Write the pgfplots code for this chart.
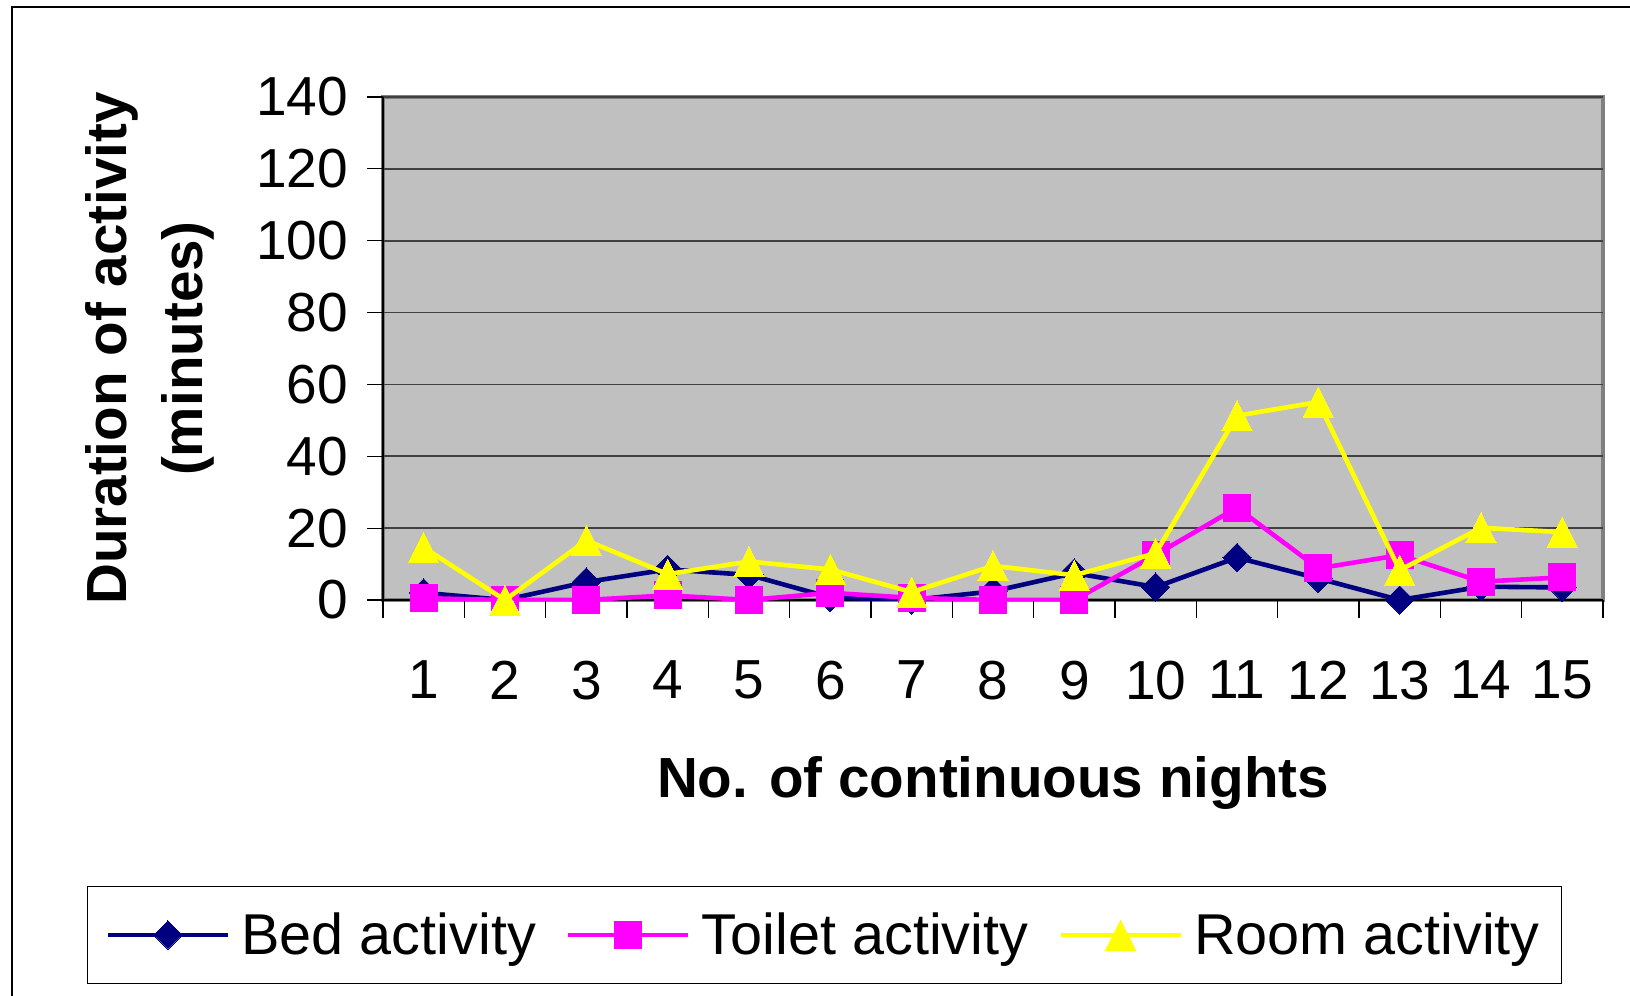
\documentclass[border=0pt]{standalone}
\usepackage{pgfplots}
\pgfplotsset{compat=1.18}
\usepackage{fontspec}
\setmainfont{Liberation Sans}
\definecolor{bedc}{HTML}{000080}
\definecolor{toic}{HTML}{FF00FF}
\definecolor{roomc}{HTML}{FFFF00}
\definecolor{plotbg}{HTML}{C0C0C0}
\definecolor{borderc}{HTML}{808080}
\definecolor{gridc}{HTML}{404040}
\begin{document}
\begin{tikzpicture}
\begin{axis}[
  at={(0pt,0pt)}, anchor=south west,
  scale only axis, width=610pt, height=251.5pt,
  xmin=0.5, xmax=15.5, ymin=0, ymax=140,
  xtick={1,...,15}, ytick={0,20,...,140},
  minor xtick={0.5,1.5,...,15.5},
  axis x line*=bottom, axis y line*=left,
  axis line style={-, black, line width=0.8pt},
  tick align=outside,
  major tick length=8pt, minor tick length=9pt,
  major x tick style={draw=none},
  minor x tick style={black, line width=0.6pt},
  major y tick style={black, line width=0.6pt},
  ymajorgrids,
  major grid style={gridc, line width=0.8pt},
  axis background/.style={fill=plotbg, draw=borderc, line width=1.6pt},
  /pgf/number format/assume math mode=true,
  tick label style={font=\fontsize{27.5}{32}\selectfont},
  xticklabel style={yshift=-19pt},
  yticklabel style={xshift=-6pt},
  xlabel={No. of continuous nights},
  xlabel style={font=\bfseries\fontsize{28.3}{34}\selectfont, at={(axis description cs:0.5,-0.3936)}, anchor=base},
  ylabel={Duration of activity\\(minutes)},
  ylabel style={font=\bfseries\fontsize{28.3}{38}\selectfont, align=center, at={(axis description cs:-0.191,0.5)}, anchor=center},
  clip mode=individual,
  legend columns=3,
  legend style={at={(axis description cs:-0.2426,-0.5686)}, anchor=north west, draw=black, line width=0.6pt, fill=white,
    inner xsep=9pt, inner ysep=11pt,
    font=\fontsize{28.8}{34}\selectfont,
    /tikz/every odd column/.append style={column sep=3.6pt},
    /tikz/every even column/.append style={column sep=13pt}},
  legend image code/.code={\draw[mark repeat=2,mark phase=2,#1] plot coordinates {(0pt,0pt) (30pt,0pt) (60pt,0pt)};},
]
\addplot[color=bedc, line width=2.3pt, mark=square*, mark size=5pt, mark options={rotate=45, fill=bedc, draw=bedc, line width=0pt}]
 coordinates {(1,2) (2,0) (3,5) (4,8.5) (5,7) (6,0.7) (7,0) (8,2.4) (9,7.5) (10,3.6) (11,11.8) (12,6) (13,0) (14,3.7) (15,3.5)};
\addlegendentry{Bed activity}
\addplot[color=toic, line width=2.3pt, mark=square*, mark size=6.7pt, mark options={fill=toic, draw=toic, line width=0pt}]
 coordinates {(1,0.5) (2,0) (3,0) (4,1.3) (5,0) (6,2) (7,0.6) (8,0) (9,0) (10,12.6) (11,25.7) (12,8.8) (13,12.5) (14,5.1) (15,6.3)};
\addlegendentry{Toilet activity}
\addplot[color=roomc, line width=2.3pt, mark=triangle*, mark size=8.7pt, mark options={fill=roomc, draw=roomc, line width=0pt, yscale=1.15, yshift=-2.2pt}]
 coordinates {(1,14.6) (2,0) (3,16.6) (4,7.2) (5,10.7) (6,8.5) (7,2.2) (8,9.5) (9,6.9) (10,13) (11,51.3) (12,55.1) (13,8.3) (14,20.1) (15,18.9)};
\addlegendentry{Room activity}
\end{axis}
\pgfresetboundingbox
\useasboundingbox (-191.5pt,-198pt) rectangle (623.5pt,300pt);
\draw[black, line width=0.75pt] (-185.5pt,-200pt) -- (-185.5pt,296.5pt) -- (625pt,296.5pt);
\end{tikzpicture}
\end{document}
